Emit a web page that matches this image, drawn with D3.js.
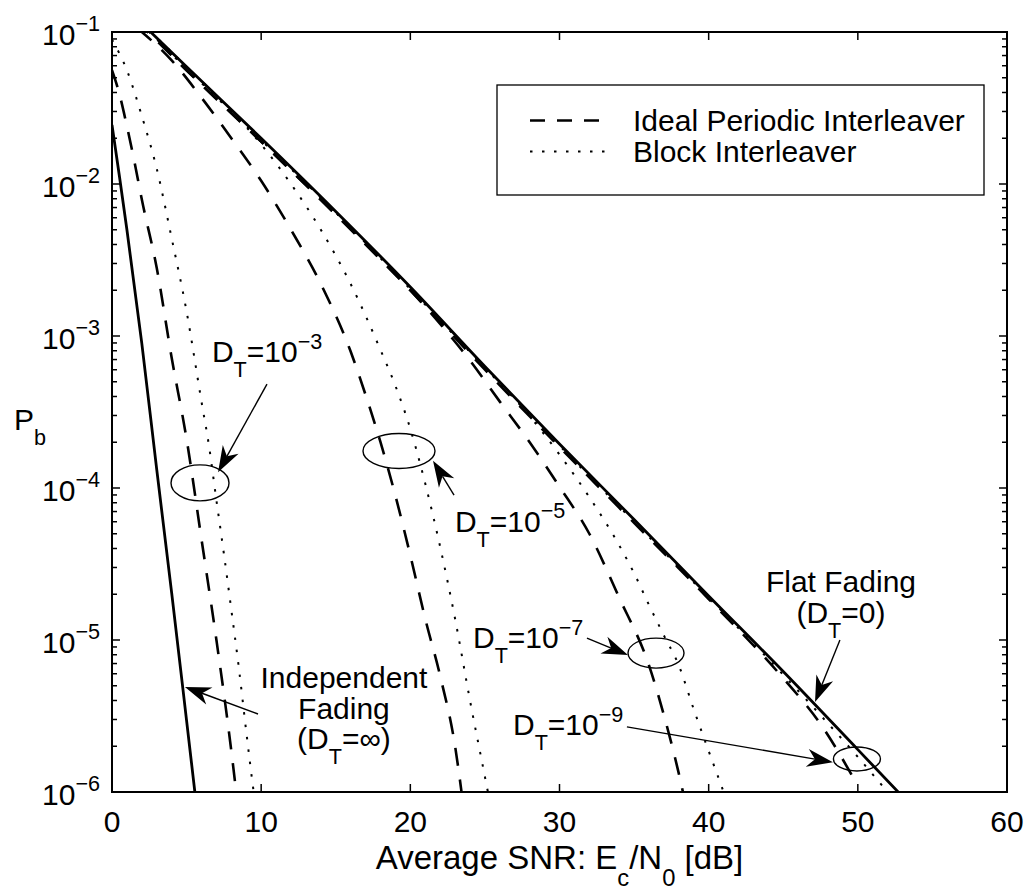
<!DOCTYPE html>
<html>
<head>
<meta charset="utf-8">
<script src="https://cdn.jsdelivr.net/npm/d3@7"></script>
<style>
  html, body { margin: 0; padding: 0; background: #fff; }
  svg { display: block; }
  text { font-family: "Liberation Sans", Arial, Helvetica, sans-serif; fill: #000; }
</style>
</head>
<body>
<svg id="chart" width="1029" height="891"></svg>
<script>
// ---------------- data: bit error probability vs. average SNR (dB) ----------------
// Independent fading (D_T = infinity)
const indepSNR = [0, 0.5, 1, 2, 3, 4, 5, 6];
const indepPb  = [2.45e-2, 1.12e-2, 5.0e-3, 8.9e-4, 1.32e-4, 2.04e-5, 2.95e-6, 4.2e-7];

// Flat fading (D_T = 0)
const flatSNR = [0, 2.5, 5, 10, 15, 20, 25, 30, 35, 40, 45, 50, 55];
const flatPb  = [0.174, 0.102, 5.9e-2, 2.0e-2, 6.6e-3, 2.1e-3, 6.3e-4, 1.95e-4, 6.2e-5, 1.95e-5, 6.2e-6, 1.9e-6, 5.8e-7];

// Ideal periodic interleaver
const ipi3SNR = [0, 0.5, 1, 1.5, 2, 3, 4, 5, 6, 7, 8, 8.5];
const ipi3Pb  = [5.6e-2, 3.9e-2, 2.4e-2, 1.41e-2, 7.9e-3, 2.8e-3, 7.2e-4, 2.1e-4, 4.6e-5, 1.0e-5, 1.86e-6, 7.1e-7];

const ipi5SNR = [0, 2, 4, 6, 8, 10, 12, 14, 16, 17, 18, 19, 20, 21, 22, 23, 23.5];
const ipi5Pb  = [0.14, 0.1, 6.5e-2, 3.7e-2, 2.0e-2, 1.05e-2, 5.0e-3, 2.2e-3, 7.9e-4, 4.1e-4, 2.0e-4, 8.9e-5, 3.6e-5, 1.38e-5, 5.8e-6, 2.0e-6, 8.9e-7];

const ipi7SNR = [0, 2.5, 5, 10, 15, 20, 22, 24, 26, 28, 30, 32, 34, 36, 37, 38, 38.5];
const ipi7Pb  = [0.166, 9.8e-2, 5.6e-2, 1.9e-2, 6.3e-3, 2.0e-3, 1.2e-3, 6.9e-4, 3.7e-4, 2.0e-4, 1.02e-4, 5.0e-5, 1.9e-5, 6.8e-6, 3.2e-6, 1.32e-6, 7.9e-7];

const ipi9SNR = [0, 2.5, 5, 10, 15, 20, 25, 30, 35, 40, 45, 47.5, 50];
const ipi9Pb  = [0.166, 9.8e-2, 5.6e-2, 1.9e-2, 6.3e-3, 2.0e-3, 6.0e-4, 1.86e-4, 5.9e-5, 1.86e-5, 5.6e-6, 2.8e-6, 1.1e-6];

// Block interleaver
const blk3SNR = [0, 1, 2, 3, 4, 5, 6, 6.5, 7, 7.5, 8, 8.5, 9, 9.5, 9.8];
const blk3Pb  = [8.9e-2, 5.6e-2, 2.8e-2, 1.26e-2, 4.4e-3, 1.45e-3, 3.7e-4, 1.9e-4, 8.3e-5, 3.7e-5, 1.58e-5, 6.6e-6, 2.5e-6, 1.0e-6, 6.3e-7];

const blk5SNR = [0, 2.5, 5, 7.5, 10, 12, 14, 16, 18, 19, 20, 21, 22, 23, 24, 25, 25.5];
const blk5Pb  = [0.166, 0.102, 5.9e-2, 3.4e-2, 1.82e-2, 1.0e-2, 5.0e-3, 2.2e-3, 8.1e-4, 4.7e-4, 2.45e-4, 1.07e-4, 4.1e-5, 1.38e-5, 4.0e-6, 1.26e-6, 7.1e-7];

const blk7SNR = [0, 2.5, 5, 10, 15, 20, 25, 27.5, 30, 32, 34, 35, 36, 37, 38, 39, 40, 41, 41.5];
const blk7Pb  = [0.17, 0.1, 5.75e-2, 1.95e-2, 6.5e-3, 2.04e-3, 6.2e-4, 3.4e-4, 1.66e-4, 8.7e-5, 4.2e-5, 2.75e-5, 1.7e-5, 1.07e-5, 6.8e-6, 3.5e-6, 1.86e-6, 1.0e-6, 7.2e-7];

const blk9SNR = [0, 2.5, 5, 10, 15, 20, 25, 30, 35, 40, 45, 47.5, 50, 52.5];
const blk9Pb  = [0.17, 0.1, 5.75e-2, 1.95e-2, 6.5e-3, 2.04e-3, 6.2e-4, 1.9e-4, 6.0e-5, 1.9e-5, 5.9e-6, 3.2e-6, 1.7e-6, 8.7e-7];

// axis ticks
const xTicks = [0, 10, 20, 30, 40, 50, 60];
const yExponents = [-1, -2, -3, -4, -5, -6];

// legend entries
const legendLabels = ["Ideal Periodic Interleaver", "Block Interleaver"];

// circled operating points
const ringSNR = [5.9, 19.24, 36.47, 49.94];
const ringPb  = [1.08e-4, 1.75e-4, 8.2e-6, 1.65e-6];

// annotation arrows (tail -> head)
const arrowTailSNR = [10.39, 22.93, 31.84, 34.52, 48.8, 9.79];
const arrowTailPb  = [4.83e-4, 8.99e-5, 1.03e-5, 2.68e-6, 1.0e-5, 3.26e-6];
const arrowHeadSNR = [7.11, 21.52, 34.59, 48.33, 47.13, 4.89];
const arrowHeadPb  = [1.27e-4, 1.51e-4, 7.96e-6, 1.57e-6, 3.91e-6, 4.91e-6];

// D_T labels (left-aligned)
const dtExponents = ["\u22123", "\u22125", "\u22127", "\u22129"];
const dtLabelSNR = [6.70, 22.99, 24.2, 26.88];
const dtLabelPb  = [6.74e-4, 5.14e-5, 8.85e-6, 2.37e-6];

// ---------------- layout ----------------
const plot = { left: 112, right: 1007, top: 32, bottom: 792 };
const FONT = 30;
const ringRadii = [[29, 18], [36, 17.5], [28, 15], [23.5, 12]];

const svg = d3.select("#chart");
const x = d3.scaleLinear().domain([0, 60]).range([plot.left, plot.right]);
const y = d3.scaleLog().domain([1e-6, 1e-1]).range([plot.bottom, plot.top]);

svg.append("rect").attr("width", 1029).attr("height", 891).attr("fill", "#fff");

svg.append("defs").append("clipPath").attr("id", "plotClip")
  .append("rect")
  .attr("x", plot.left).attr("y", plot.top)
  .attr("width", plot.right - plot.left).attr("height", plot.bottom - plot.top);

// Multi-line text with sub/superscripts in a single <text> element.
// lines: [[[string, "n" | "sub" | "sup"], ...], ...]
function richLines(parent, px, py, lines, anchor, size, gap) {
  const t = parent.append("text")
    .attr("x", px).attr("y", py)
    .attr("text-anchor", anchor)
    .style("font-size", size + "px");
  let cur = 0;
  lines.forEach((parts, li) => {
    parts.forEach(([s, kind], pi) => {
      const off = kind === "sub" ? size * 0.5 : kind === "sup" ? -size * 0.45 : 0;
      const span = t.append("tspan")
        .style("font-size", (kind === "n" ? size : size * 0.72) + "px")
        .text(s);
      if (li > 0 && pi === 0) {
        span.attr("x", px).attr("dy", gap + off - cur);
      } else {
        span.attr("dy", off - cur);
      }
      cur = off;
    });
  });
  return t;
}
const richText = (parent, px, py, parts, anchor, size) =>
  richLines(parent, px, py, [parts], anchor, size, 0);

// ---------------- curves ----------------
const line = d3.line()
  .x(d => x(d[0]))
  .y(d => y(d[1]))
  .curve(d3.curveMonotoneX);

const zip = (a, b) => a.map((v, i) => [v, b[i]]);

const styles = {
  solid:  { w: 2.8, dash: null },
  dashed: { w: 2.6, dash: "18,14" },
  dotted: { w: 2.0, dash: "2.5,10" }
};

const series = [
  { snr: blk3SNR, pb: blk3Pb, s: "dotted" },
  { snr: blk5SNR, pb: blk5Pb, s: "dotted" },
  { snr: blk7SNR, pb: blk7Pb, s: "dotted" },
  { snr: blk9SNR, pb: blk9Pb, s: "dotted" },
  { snr: ipi3SNR, pb: ipi3Pb, s: "dashed" },
  { snr: ipi5SNR, pb: ipi5Pb, s: "dashed" },
  { snr: ipi7SNR, pb: ipi7Pb, s: "dashed" },
  { snr: ipi9SNR, pb: ipi9Pb, s: "dashed" },
  { snr: indepSNR, pb: indepPb, s: "solid" },
  { snr: flatSNR, pb: flatPb, s: "solid" }
];

const curves = svg.append("g").attr("clip-path", "url(#plotClip)");
series.forEach(c => {
  const st = styles[c.s];
  curves.append("path")
    .attr("d", line(zip(c.snr, c.pb)))
    .attr("fill", "none")
    .attr("stroke", "#000")
    .attr("stroke-width", st.w)
    .attr("stroke-dasharray", st.dash)
    .attr("stroke-linejoin", "round");
});

// ---------------- axes box and ticks ----------------
const axes = svg.append("g");
axes.append("rect")
  .attr("x", plot.left).attr("y", plot.top)
  .attr("width", plot.right - plot.left).attr("height", plot.bottom - plot.top)
  .attr("fill", "none").attr("stroke", "#000").attr("stroke-width", 2);

const MAJOR = 8, MINOR = 5;
xTicks.forEach(v => {
  const px = x(v);
  axes.append("line").attr("x1", px).attr("x2", px).attr("y1", plot.bottom).attr("y2", plot.bottom - MAJOR)
    .attr("stroke", "#000").attr("stroke-width", 1.5);
  axes.append("line").attr("x1", px).attr("x2", px).attr("y1", plot.top).attr("y2", plot.top + MAJOR)
    .attr("stroke", "#000").attr("stroke-width", 1.5);
  axes.append("text").attr("x", px).attr("y", plot.bottom + 40)
    .attr("text-anchor", "middle").style("font-size", FONT + "px").text(v);
});

const minorVals = [];
yExponents.slice(1).forEach(e => {
  for (let m = 2; m <= 9; m++) minorVals.push(m * Math.pow(10, e));
});
const tickY = (val, len) => {
  const py = y(val);
  axes.append("line").attr("x1", plot.left).attr("x2", plot.left + len).attr("y1", py).attr("y2", py)
    .attr("stroke", "#000").attr("stroke-width", 1.5);
  axes.append("line").attr("x1", plot.right).attr("x2", plot.right - len).attr("y1", py).attr("y2", py)
    .attr("stroke", "#000").attr("stroke-width", 1.5);
};
minorVals.forEach(v => tickY(v, MINOR));
yExponents.forEach(e => {
  const v = Math.pow(10, e);
  tickY(v, MAJOR);
  richText(axes, plot.left - 12, y(v) + 12.5, [["10", "n"], ["\u2212" + Math.abs(e), "sup"]], "end", FONT);
});

// axis labels
richText(svg, (plot.left + plot.right) / 2, 869,
  [["Average SNR: E", "n"], ["c", "sub"], ["/N", "n"], ["0", "sub"], [" [dB]", "n"]], "middle", 33);
richText(svg, 14, 430, [["P", "n"], ["b", "sub"]], "start", FONT);

// ---------------- legend ----------------
const lg = svg.append("g");
lg.append("rect").attr("x", 497).attr("y", 85).attr("width", 487).attr("height", 110)
  .attr("fill", "#fff").attr("stroke", "#000").attr("stroke-width", 1.3);
const legendStyles = [{ w: 2.6, dash: "15,12" }, { w: 2.0, dash: "2.5,9.5" }];
const LEG_ROW = 31;
legendLabels.forEach((lab, i) => {
  const cy = 120.5 + i * LEG_ROW;
  lg.append("line").attr("x1", 530).attr("x2", 607).attr("y1", cy).attr("y2", cy)
    .attr("stroke", "#000").attr("stroke-width", legendStyles[i].w)
    .attr("stroke-dasharray", legendStyles[i].dash);
});
richLines(lg, 633, 130.5, legendLabels.map(l => [[l, "n"]]), "start", FONT, LEG_ROW);

// ---------------- annotations ----------------
const ann = svg.append("g");
ringSNR.forEach((v, i) => {
  ann.append("ellipse")
    .attr("cx", x(v)).attr("cy", y(ringPb[i]))
    .attr("rx", ringRadii[i][0]).attr("ry", ringRadii[i][1])
    .attr("fill", "none").attr("stroke", "#000").attr("stroke-width", 1.4);
});

const HEAD_L = 26, HEAD_W = 9, NOTCH = 0.7;
arrowTailSNR.forEach((v, i) => {
  const x0 = x(v), y0 = y(arrowTailPb[i]);
  const x1 = x(arrowHeadSNR[i]), y1 = y(arrowHeadPb[i]);
  const ang = Math.atan2(y1 - y0, x1 - x0);
  const ux = Math.cos(ang), uy = Math.sin(ang);
  const nx = -uy, ny = ux;
  const bx = x1 - ux * HEAD_L, by = y1 - uy * HEAD_L;
  const mx = x1 - ux * HEAD_L * NOTCH, my = y1 - uy * HEAD_L * NOTCH;
  ann.append("line").attr("x1", x0).attr("y1", y0).attr("x2", mx).attr("y2", my)
    .attr("stroke", "#000").attr("stroke-width", 1.4);
  ann.append("path")
    .attr("d", `M${x1},${y1}L${bx + nx * HEAD_W},${by + ny * HEAD_W}L${mx},${my}L${bx - nx * HEAD_W},${by - ny * HEAD_W}Z`)
    .attr("fill", "#000");
});

dtExponents.forEach((ex, i) => {
  richText(ann, x(dtLabelSNR[i]), y(dtLabelPb[i]),
    [["D", "n"], ["T", "sub"], ["=10", "n"], [ex, "sup"]], "start", FONT);
});

// flat fading label
richLines(ann, x(48.87), y(2.04e-5) - 1, [
  [["Flat Fading", "n"]],
  [["(D", "n"], ["T", "sub"], ["=0)", "n"]]
], "middle", FONT, 31);

// independent fading label
richLines(ann, x(15.55), y(4.83e-6), [
  [["Independent", "n"]],
  [["Fading", "n"]],
  [["(D", "n"], ["T", "sub"], ["=\u221E)", "n"]]
], "middle", FONT, 30.5);
</script>
</body>
</html>
